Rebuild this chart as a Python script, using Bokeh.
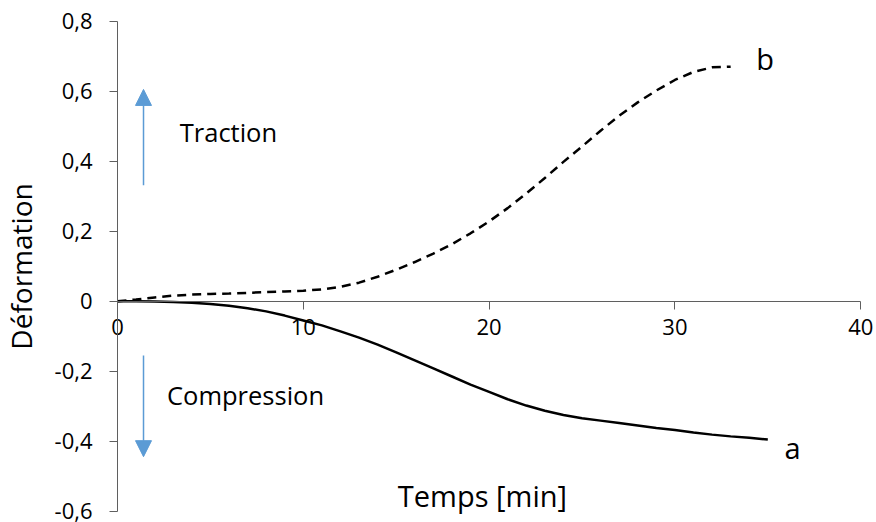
from bokeh.plotting import figure
from bokeh.models import Range1d, FixedTicker, Arrow, NormalHead, Label, ColumnDataSource
from bokeh.embed import file_html
from bokeh.resources import INLINE

# ---- data ----
a_x = [0, 1, 2, 3, 4, 5, 6, 7, 8, 9, 10, 11, 12, 13, 14, 15, 16, 17, 18, 19, 20,
       21, 22, 23, 24, 25, 26, 27, 28, 29, 30, 31, 32, 33, 34, 35]
a_y = [0, 0, -0.001, -0.002, -0.004, -0.008, -0.013, -0.02, -0.029, -0.041, -0.055,
       -0.069, -0.086, -0.104, -0.124, -0.146, -0.169, -0.192, -0.215, -0.238, -0.259,
       -0.28, -0.298, -0.313, -0.325, -0.334, -0.341, -0.348, -0.355, -0.362, -0.368,
       -0.375, -0.381, -0.386, -0.39, -0.395]

b_x = [0, 1, 2, 3, 4, 5, 6, 7, 8, 9, 10, 11, 12, 13, 14, 15, 16, 17, 18, 19, 20,
       21, 22, 23, 24, 25, 26, 27, 28, 29, 30, 31, 32, 33]
b_y = [0, 0.005, 0.011, 0.016, 0.019, 0.021, 0.022, 0.024, 0.026, 0.028, 0.030,
       0.034, 0.041, 0.053, 0.07, 0.09, 0.112, 0.136, 0.163, 0.194, 0.228, 0.266,
       0.308, 0.352, 0.398, 0.442, 0.487, 0.53, 0.568, 0.602, 0.632, 0.655, 0.668, 0.67]

x_ticks = [0, 10, 20, 30, 40]
x_tick_labels = ["0", "10", "20", "30", "40"]
y_ticks = [-0.6, -0.4, -0.2, 0, 0.2, 0.4, 0.6, 0.8]
y_tick_labels = ["-0,6", "-0,4", "-0,2", "0", "0,2", "0,4", "0,6", "0,8"]

x_min, x_max = 0, 40
y_min, y_max = -0.6, 0.8

x_title = "Temps [min]"
y_title = "Déformation"

# annotations (data coordinates)
traction_text = "Traction"
traction_pos = (5.97, 0.482)
compression_text = "Compression"
compression_pos = (6.89, -0.269)
label_a_pos = (36.33, -0.418)
label_b_pos = (34.85, 0.693)
x_title_pos = (19.64, -0.556)
arrow_up = (1.40, 0.331, 1.40, 0.605)
arrow_down = (1.40, -0.155, 1.40, -0.444)

FONT = "Open Sans"
AXIS_COLOR = "#5f5f5f"
ARROW_COLOR = "#5b9bd5"

# the frame covers the whole canvas; both axes sit at fixed data locations
p = figure(width=876, height=522, output_backend="svg", toolbar_location=None,
           x_range=Range1d(-6.297, 40.85), y_range=Range1d(-0.632, 0.859),
           min_border_left=0, min_border_right=0, min_border_top=0,
           min_border_bottom=0)
p.xgrid.visible = False
p.ygrid.visible = False
p.outline_line_color = None
p.background_fill_color = "white"
p.border_fill_color = "white"

xa = p.xaxis[0]
xa.fixed_location = 0
xa.bounds = (x_min, x_max)
xa.ticker = FixedTicker(ticks=x_ticks)
xa.major_label_overrides = {t: l for t, l in zip(x_ticks, x_tick_labels)}
xa.axis_line_color = AXIS_COLOR
xa.major_tick_line_color = AXIS_COLOR
xa.major_tick_out = 8
xa.major_tick_in = 0
xa.minor_tick_line_color = None
xa.major_label_standoff = 10
xa.major_label_text_font = FONT
xa.major_label_text_font_size = "22px"
xa.major_label_text_color = "black"

ya = p.yaxis[0]
ya.fixed_location = 0
ya.bounds = (y_min, y_max)
ya.ticker = FixedTicker(ticks=y_ticks)
ya.major_label_overrides = {t: l for t, l in zip(y_ticks, y_tick_labels)}
ya.axis_line_color = AXIS_COLOR
ya.major_tick_line_color = AXIS_COLOR
ya.major_tick_out = 8
ya.major_tick_in = 0
ya.minor_tick_line_color = None
ya.major_label_standoff = 17
ya.major_label_text_font = FONT
ya.major_label_text_font_size = "22px"
ya.major_label_text_color = "black"
ya.axis_label = y_title
ya.axis_label_text_font = FONT
ya.axis_label_text_font_size = "28px"
ya.axis_label_text_font_style = "normal"
ya.axis_label_text_color = "black"
ya.axis_label_standoff = 12

src_a = ColumnDataSource(dict(x=a_x, y=a_y))
src_b = ColumnDataSource(dict(x=b_x, y=b_y))
p.line("x", "y", source=src_a, line_color="black", line_width=2.5)
p.line("x", "y", source=src_b, line_color="black", line_width=2.5, line_dash="9 6")

for (x0, y0, x1, y1) in (arrow_up, arrow_down):
    p.add_layout(Arrow(x_start=x0, y_start=y0, x_end=x1, y_end=y1,
                       line_color=ARROW_COLOR, line_width=1.5,
                       end=NormalHead(size=16, fill_color=ARROW_COLOR,
                                      line_color=ARROW_COLOR)))

def add_label(text, pos, size):
    p.add_layout(Label(x=pos[0], y=pos[1], text=text, text_align="center",
                       text_baseline="alphabetic", text_font=FONT,
                       text_font_size=size, text_color="black"))

add_label(traction_text, traction_pos, "25.5px")
add_label(compression_text, compression_pos, "25.5px")
add_label("a", label_a_pos, "29px")
add_label("b", label_b_pos, "29px")
add_label(x_title, x_title_pos, "29px")

open("out.html", "w").write(file_html(p, INLINE))
